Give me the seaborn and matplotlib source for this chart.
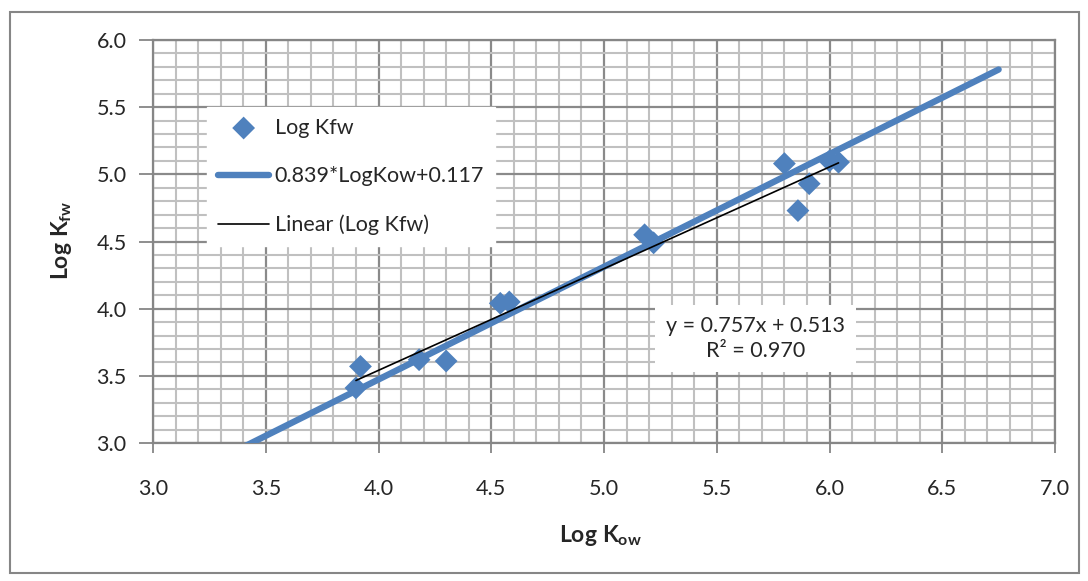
"""
Log Kfw vs Log Kow scatter with two regression lines
"""
import numpy as np
import pandas as pd
import seaborn as sns
import matplotlib.pyplot as plt
from matplotlib.patches import Rectangle
from matplotlib.ticker import MultipleLocator

# ========== data ==========
log_kow = [3.90, 3.92, 4.18, 4.30, 4.54, 4.58, 5.18, 5.22, 5.80, 5.86, 5.91, 6.00, 6.04]
log_kfw = [3.41, 3.57, 3.62, 3.61, 4.04, 4.05, 4.55, 4.49, 5.08, 4.73, 4.93, 5.10, 5.09]

model_slope, model_icpt = 0.839, 0.117      # 0.839*LogKow+0.117
model_x = [3.40, 6.75]
trend_slope, trend_icpt = 0.757, 0.513      # Excel linear trendline
r2 = 0.970

xticks = [3.0, 3.5, 4.0, 4.5, 5.0, 5.5, 6.0, 6.5, 7.0]
yticks = [3.0, 3.5, 4.0, 4.5, 5.0, 5.5, 6.0]

pts = pd.DataFrame({'kow': log_kow, 'kfw': log_kfw})
model = pd.DataFrame({'kow': model_x})
model['kfw'] = model_slope * model['kow'] + model_icpt
trend = pd.DataFrame({'kow': [min(log_kow), max(log_kow)]})
trend['kfw'] = trend_slope * trend['kow'] + trend_icpt

# ========== style ==========
sns.set_style('white')
plt.rcParams['font.family'] = ['Lato', 'DejaVu Sans']
plt.rcParams['mathtext.fontset'] = 'custom'
plt.rcParams['mathtext.rm'] = 'Lato'
plt.rcParams['mathtext.bf'] = 'Lato:bold'
plt.rcParams['mathtext.it'] = 'Lato:italic'

blue = '#4F81BD'
fs = 15.5

fig = plt.figure(figsize=(10.88, 5.81), dpi=100)
ax = fig.add_axes([153/1088, 1-443/581, (1055-153)/1088, (443-40)/581])

# ========== plot ==========
sns.lineplot(data=model, x='kow', y='kfw', color=blue, lw=4.6,
             solid_capstyle='round', label='0.839*LogKow+0.117', ax=ax, zorder=3)
sns.lineplot(data=trend, x='kow', y='kfw', color='black', lw=1.2,
             label='Linear (Log Kfw)', ax=ax, zorder=5)
sns.scatterplot(data=pts, x='kow', y='kfw', marker='D', s=135, color=blue,
                edgecolor='none', label='Log Kfw', ax=ax, zorder=4)

ax.set_xlim(3.0, 7.0)
ax.set_ylim(3.0, 6.0)
ax.set_xticks(xticks)
ax.set_yticks(yticks)
ax.set_xticklabels([f'{t:.1f}' for t in xticks], fontsize=fs)
ax.set_yticklabels([f'{t:.1f}' for t in yticks], fontsize=fs)
ax.xaxis.set_minor_locator(MultipleLocator(0.1))
ax.yaxis.set_minor_locator(MultipleLocator(0.1))
ax.grid(which='minor', color='#c0c0c0', lw=1.5, zorder=0)
ax.grid(which='major', color='#8a8a8a', lw=1.6, zorder=0)
ax.set_axisbelow(True)
ax.tick_params(axis='x', which='major', length=7, width=1.3, color='#868686',
               pad=19, direction='out', bottom=True)
ax.tick_params(axis='y', which='major', length=10, width=1.3, color='#868686',
               pad=9, direction='out', left=True)
ax.tick_params(which='minor', length=0)
for s in ax.spines.values():
    s.set_color('#868686')
    s.set_linewidth(1.6)

ax.set_xlabel(r'$\mathbf{Log\ K_{ow}}$', fontsize=fs + 1)
ax.set_ylabel(r'$\mathbf{Log\ K_{fw}}$', fontsize=fs + 1)
ax.xaxis.set_label_coords(0.4956, -0.198)
ax.yaxis.set_label_coords(-0.088, 0.504)

# legend order: points, model line, trendline
h, l = ax.get_legend_handles_labels()
order = [2, 0, 1]
leg = ax.legend([h[i] for i in order], [l[i] for i in order],
                loc='upper left', bbox_to_anchor=(0.0599, 0.834), borderaxespad=0,
                frameon=True, fancybox=False, framealpha=1, edgecolor='white',
                facecolor='white', fontsize=fs, handlelength=2.4,
                handletextpad=0.25, labelspacing=1.32, borderpad=0.5)
leg.set_zorder(6)

ax.text(5.671, 3.779, f'y = {trend_slope:.3f}x + {trend_icpt:.3f}\nR² = {r2:.3f}',
        ha='center', va='center', multialignment='center', fontsize=fs,
        linespacing=1.3, zorder=6,
        bbox=dict(boxstyle='square,pad=0.5', facecolor='white', edgecolor='none'))

# outer chart border
fig.patches.append(Rectangle((10/1088, 1-573/581), (1079-10)/1088, (573-12)/581,
                             transform=fig.transFigure, fill=False,
                             edgecolor='#868686', lw=1.5))

fig.savefig('out.png', dpi=100)
